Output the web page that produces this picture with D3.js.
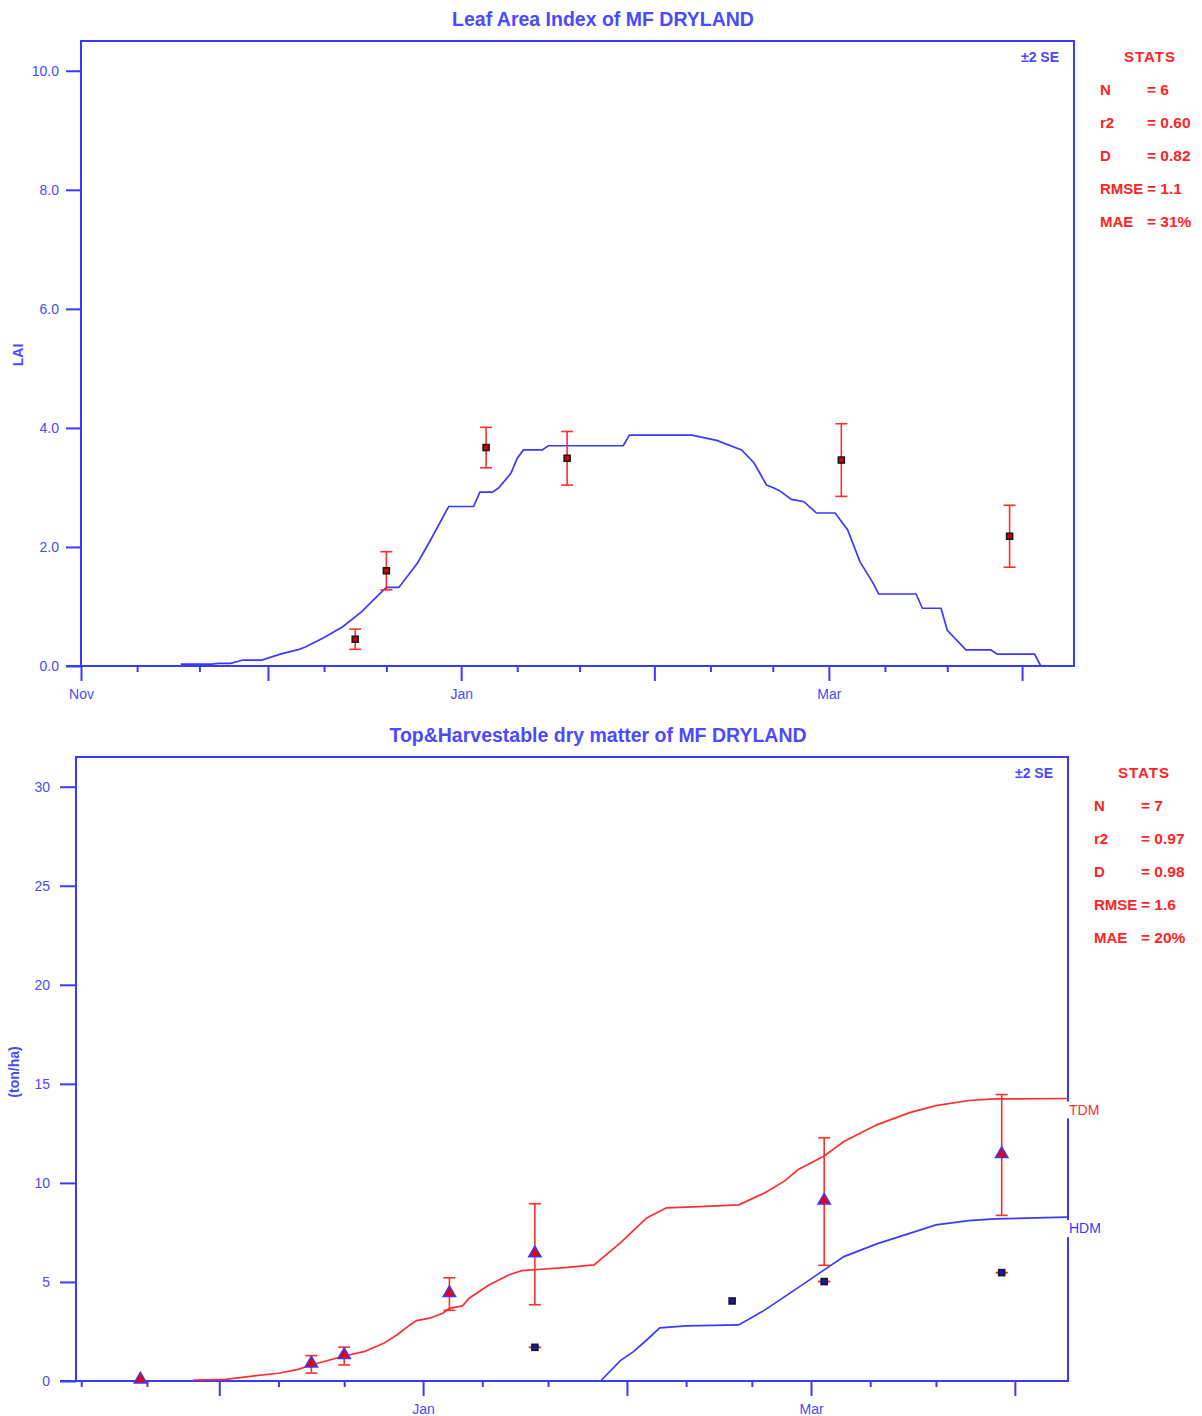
<!DOCTYPE html>
<html>
<head>
  <meta charset="utf-8">
  <title>LAI and dry matter of MF DRYLAND</title>
  <style>
    body { margin: 0; background: #fff; }
    svg text { font-family: "Liberation Sans", Arial, sans-serif; }
  </style>
</head>
<body>
<script src="https://cdnjs.cloudflare.com/ajax/libs/d3/7.8.5/d3.min.js"></script>
<script>
// ---- data: leaf area index ----
const laiDates = ["2001-11-17","2001-11-22","2001-11-23","2001-11-25","2001-11-27","2001-11-30","2001-12-03","2001-12-06","2001-12-07","2001-12-10","2001-12-13","2001-12-16","2001-12-19","2001-12-20","2001-12-22","2001-12-25","2001-12-27","2001-12-30","2002-01-03","2002-01-04","2002-01-06","2002-01-07","2002-01-09","2002-01-10","2002-01-11","2002-01-14","2002-01-15","2002-01-27","2002-01-28","2002-02-07","2002-02-11","2002-02-15","2002-02-17","2002-02-19","2002-02-20","2002-02-21","2002-02-23","2002-02-25","2002-02-27","2002-03-02","2002-03-04","2002-03-06","2002-03-08","2002-03-09","2002-03-15","2002-03-16","2002-03-19","2002-03-20","2002-03-23","2002-03-27","2002-03-28","2002-04-03","2002-04-04"];
const laiSim = [0.03,0.03,0.045,0.045,0.10,0.10,0.20,0.28,0.32,0.48,0.66,0.91,1.22,1.32,1.32,1.73,2.10,2.68,2.68,2.92,2.92,2.99,3.24,3.49,3.63,3.63,3.70,3.70,3.88,3.88,3.79,3.63,3.41,3.04,3.00,2.95,2.80,2.76,2.57,2.57,2.29,1.75,1.41,1.21,1.21,0.97,0.97,0.60,0.27,0.27,0.20,0.20,0.0];
const laiObsDates = ["2001-12-15","2001-12-20","2002-01-05","2002-01-18","2002-03-03","2002-03-30"];
const laiObs = [0.45,1.60,3.67,3.49,3.46,2.18];
const laiObsSE = [0.17,0.32,0.34,0.45,0.61,0.52];
const laiTicks = [0,2,4,6,8,10];
const laiStats = [["N","= 6"],["r2","= 0.60"],["D","= 0.82"],["RMSE","= 1.1"],["MAE","= 31%"]];

// ---- data: top & harvestable dry matter ----
const tdmDates = ["2001-11-27","2001-12-02","2001-12-06","2001-12-10","2001-12-13","2001-12-15","2001-12-20","2001-12-23","2001-12-26","2001-12-28","2001-12-30","2001-12-31","2002-01-02","2002-01-04","2002-01-05","2002-01-07","2002-01-08","2002-01-11","2002-01-14","2002-01-16","2002-01-19","2002-01-23","2002-01-27","2002-01-31","2002-02-04","2002-02-07","2002-02-12","2002-02-18","2002-02-22","2002-02-25","2002-02-27","2002-03-03","2002-03-06","2002-03-11","2002-03-16","2002-03-20","2002-03-25","2002-03-29","2002-04-09"];
const tdmSim = [0.05,0.08,0.25,0.39,0.59,0.81,1.26,1.48,1.90,2.32,2.83,3.05,3.17,3.42,3.67,3.79,4.18,4.85,5.35,5.57,5.64,5.74,5.86,6.97,8.23,8.74,8.80,8.89,9.50,10.10,10.66,11.36,12.09,12.93,13.55,13.90,14.16,14.24,14.26];
const hdmDates = ["2002-01-28","2002-01-31","2002-02-02","2002-02-04","2002-02-06","2002-02-10","2002-02-18","2002-02-22","2002-02-25","2002-02-28","2002-03-03","2002-03-06","2002-03-11","2002-03-16","2002-03-20","2002-03-25","2002-03-29","2002-04-09"];
const hdmSim = [0,1.03,1.48,2.07,2.68,2.78,2.83,3.59,4.26,4.93,5.61,6.28,6.92,7.45,7.88,8.10,8.18,8.27];
const tdmObsDates = ["2001-11-19","2001-12-15","2001-12-20","2002-01-05","2002-01-18","2002-03-03","2002-03-30"];
const tdmObs = [0.03,0.84,1.26,4.39,6.40,9.06,11.41];
const tdmObsSE = [null,0.44,0.45,0.82,2.55,3.22,3.05];
const hdmObsDates = ["2002-01-18","2002-02-17","2002-03-03","2002-03-30"];
const hdmObs = [1.70,4.04,5.02,5.47];
const hdmObsSE = [0,null,0,0];
const dmTicks = [0,5,10,15,20,25,30];
const dmStats = [["N","= 7"],["r2","= 0.97"],["D","= 0.98"],["RMSE","= 1.6"],["MAE","= 20%"]];

const labelledMonths = ["Nov","Jan","Mar"];

const blue = "#3a3aff", textBlue = "#4a4aff", red = "#ff2e2e", statRed = "#ff2424";
const parse = d3.timeParse("%Y-%m-%d");
const fmtMonth = d3.timeFormat("%b");

const svg = d3.select("body").append("svg")
  .attr("width", 1202)
  .attr("height", 1416);

function panel(o) {
  const g = svg.append("g");
  const x = d3.scaleTime().domain(o.xDomain).range([o.left, o.right]);
  const y = d3.scaleLinear().domain(o.yDomain).range([o.bottom, o.top]);

  // title
  g.append("text").attr("x", o.titleX).attr("y", o.top - 15)
    .attr("text-anchor", "middle").attr("font-size", 19.5).attr("font-weight", "bold")
    .attr("fill", textBlue).text(o.title);

  // y axis
  g.append("g").attr("transform", `translate(${o.left},0)`)
    .call(d3.axisLeft(y).tickValues(o.yTicks).tickSize(o.yTickLen).tickPadding(o.yPad).tickFormat(o.yFmt))
    .call(a => a.select(".domain").remove())
    .call(a => a.selectAll("line").attr("stroke", blue).attr("stroke-width", 2))
    .call(a => a.selectAll("text").attr("fill", textBlue).attr("font-size", 14).attr("font-family", null));

  g.append("text")
    .attr("transform", `translate(${o.yLabelX},${o.yLabelY}) rotate(-90)`)
    .attr("text-anchor", "middle").attr("font-size", 14).attr("font-weight", "bold")
    .attr("fill", textBlue).text(o.yLabel);

  // x axis: month ticks and 10th/20th minor ticks
  const months = d3.timeMonth.range(d3.timeMonth.ceil(o.xDomain[0]), o.xDomain[1]);
  const minor = d3.timeDay.range(o.xDomain[0], o.xDomain[1]).filter(d => d.getDate() === 10 || d.getDate() === 20);
  g.append("g").attr("transform", `translate(0,${o.bottom})`)
    .call(d3.axisBottom(x).tickValues(months).tickSize(15).tickPadding(8)
      .tickFormat(d => labelledMonths.includes(fmtMonth(d)) ? fmtMonth(d) : ""))
    .call(a => a.select(".domain").remove())
    .call(a => a.selectAll("line").attr("stroke", blue).attr("stroke-width", 2))
    .call(a => a.selectAll("text").attr("fill", textBlue).attr("font-size", 14).attr("font-family", null));
  g.append("g").attr("transform", `translate(0,${o.bottom})`)
    .call(d3.axisBottom(x).tickValues(minor).tickSize(6).tickFormat(""))
    .call(a => a.select(".domain").remove())
    .call(a => a.selectAll("line").attr("stroke", blue).attr("stroke-width", 2));

  // frame and axis line stub
  g.append("rect").attr("x", o.left).attr("y", o.top)
    .attr("width", o.right - o.left).attr("height", o.bottom - o.top)
    .attr("fill", "none").attr("stroke", blue).attr("stroke-width", 2);
  g.append("line").attr("x1", o.left - o.yTickLen).attr("x2", o.left)
    .attr("y1", o.bottom).attr("y2", o.bottom).attr("stroke", blue).attr("stroke-width", 2);

  // simulated lines
  const line = d3.line().x(d => x(d[0])).y(d => y(d[1]));
  o.lines.forEach(s => {
    const pts = s.dates.map((d, i) => [parse(d), s.values[i]]);
    g.append("path").datum(pts).attr("d", line)
      .attr("fill", "none").attr("stroke", s.color).attr("stroke-width", 1.7);
    if (s.label) {
      const last = pts[pts.length - 1];
      const ly = y(last[1]) + 16;
      g.append("rect").attr("x", o.right - 2).attr("y", ly - 13).attr("width", 36).attr("height", 17).attr("fill", "#fff");
      g.append("text").attr("x", o.right + 1).attr("y", ly)
        .attr("font-size", 14).attr("fill", s.color).text(s.label);
    }
  });

  // observed points with error bars
  o.obs.forEach(s => {
    const pts = s.dates.map((d, i) => ({ t: parse(d), v: s.values[i], se: s.se[i] }));
    const bars = g.append("g").attr("stroke", red).attr("stroke-width", 1.6);
    pts.filter(p => p.se !== null).forEach(p => {
      const cx = x(p.t), y1 = y(p.v + p.se), y2 = y(p.v - p.se);
      bars.append("line").attr("x1", cx).attr("x2", cx).attr("y1", y1).attr("y2", y2);
      bars.append("line").attr("x1", cx - 6).attr("x2", cx + 6).attr("y1", y1).attr("y2", y1);
      bars.append("line").attr("x1", cx - 6).attr("x2", cx + 6).attr("y1", y2).attr("y2", y2);
    });
    if (s.shape === "triangle") {
      g.append("g").selectAll("path").data(pts).join("path")
        .attr("d", d3.symbol(d3.symbolTriangle, 66))
        .attr("transform", p => `translate(${x(p.t)},${y(p.v) - 1})`)
        .attr("fill", "#ee0000").attr("stroke", blue).attr("stroke-width", 1.5);
    } else {
      g.append("g").selectAll("rect").data(pts).join("rect")
        .attr("x", p => x(p.t) - 3).attr("y", p => y(p.v) - 3)
        .attr("width", 6).attr("height", 6)
        .attr("fill", s.fill).attr("stroke", "#1a1a1a").attr("stroke-width", 1.6);
    }
  });

  // ±2 SE note and stats block
  g.append("text").attr("x", o.right - 15).attr("y", o.top + 21)
    .attr("text-anchor", "end").attr("font-size", 14).attr("font-weight", "bold")
    .attr("fill", textBlue).text("±2 SE");
  g.append("text").attr("x", o.statX + 50).attr("y", o.top + 21)
    .attr("text-anchor", "middle").attr("font-size", 15).attr("font-weight", "bold")
    .attr("letter-spacing", 1).attr("fill", statRed).text("STATS");
  o.stats.forEach((s, i) => {
    const ty = o.top + 54 + i * 33;
    g.append("text").attr("x", o.statX).attr("y", ty).attr("font-size", 15)
      .attr("font-weight", "bold").attr("fill", statRed).text(s[0]);
    g.append("text").attr("x", o.statX + 47).attr("y", ty).attr("font-size", 15.5)
      .attr("font-weight", "bold").attr("fill", statRed).text(s[1]);
  });
}

panel({
  title: "Leaf Area Index of MF DRYLAND", titleX: 603,
  left: 81, right: 1074, top: 41, bottom: 666,
  xDomain: [new Date(2001, 10, 1), new Date(2002, 3, 9, 8)],
  yDomain: [0, 10.5], yTicks: laiTicks, yFmt: d3.format(".1f"),
  yTickLen: 15, yPad: 7,
  yLabel: "LAI", yLabelX: 23, yLabelY: 355,
  lines: [{ dates: laiDates, values: laiSim, color: blue }],
  obs: [{ dates: laiObsDates, values: laiObs, se: laiObsSE, shape: "square", fill: "#d00000" }],
  stats: laiStats, statX: 1100
});

panel({
  title: "Top&Harvestable dry matter of MF DRYLAND", titleX: 598,
  left: 76, right: 1068, top: 757, bottom: 1381,
  xDomain: [new Date(2001, 10, 9, 5), new Date(2002, 3, 9, 2)],
  yDomain: [0, 31.5], yTicks: dmTicks, yFmt: d3.format("d"),
  yTickLen: 16, yPad: 10,
  yLabel: "(ton/ha)", yLabelX: 19, yLabelY: 1072,
  lines: [
    { dates: tdmDates, values: tdmSim, color: red, label: "TDM" },
    { dates: hdmDates, values: hdmSim, color: blue, label: "HDM" }
  ],
  obs: [
    { dates: hdmObsDates, values: hdmObs, se: hdmObsSE, shape: "square", fill: "#1515c8" },
    { dates: tdmObsDates, values: tdmObs, se: tdmObsSE, shape: "triangle" }
  ],
  stats: dmStats, statX: 1094
});
</script>
</body>
</html>
